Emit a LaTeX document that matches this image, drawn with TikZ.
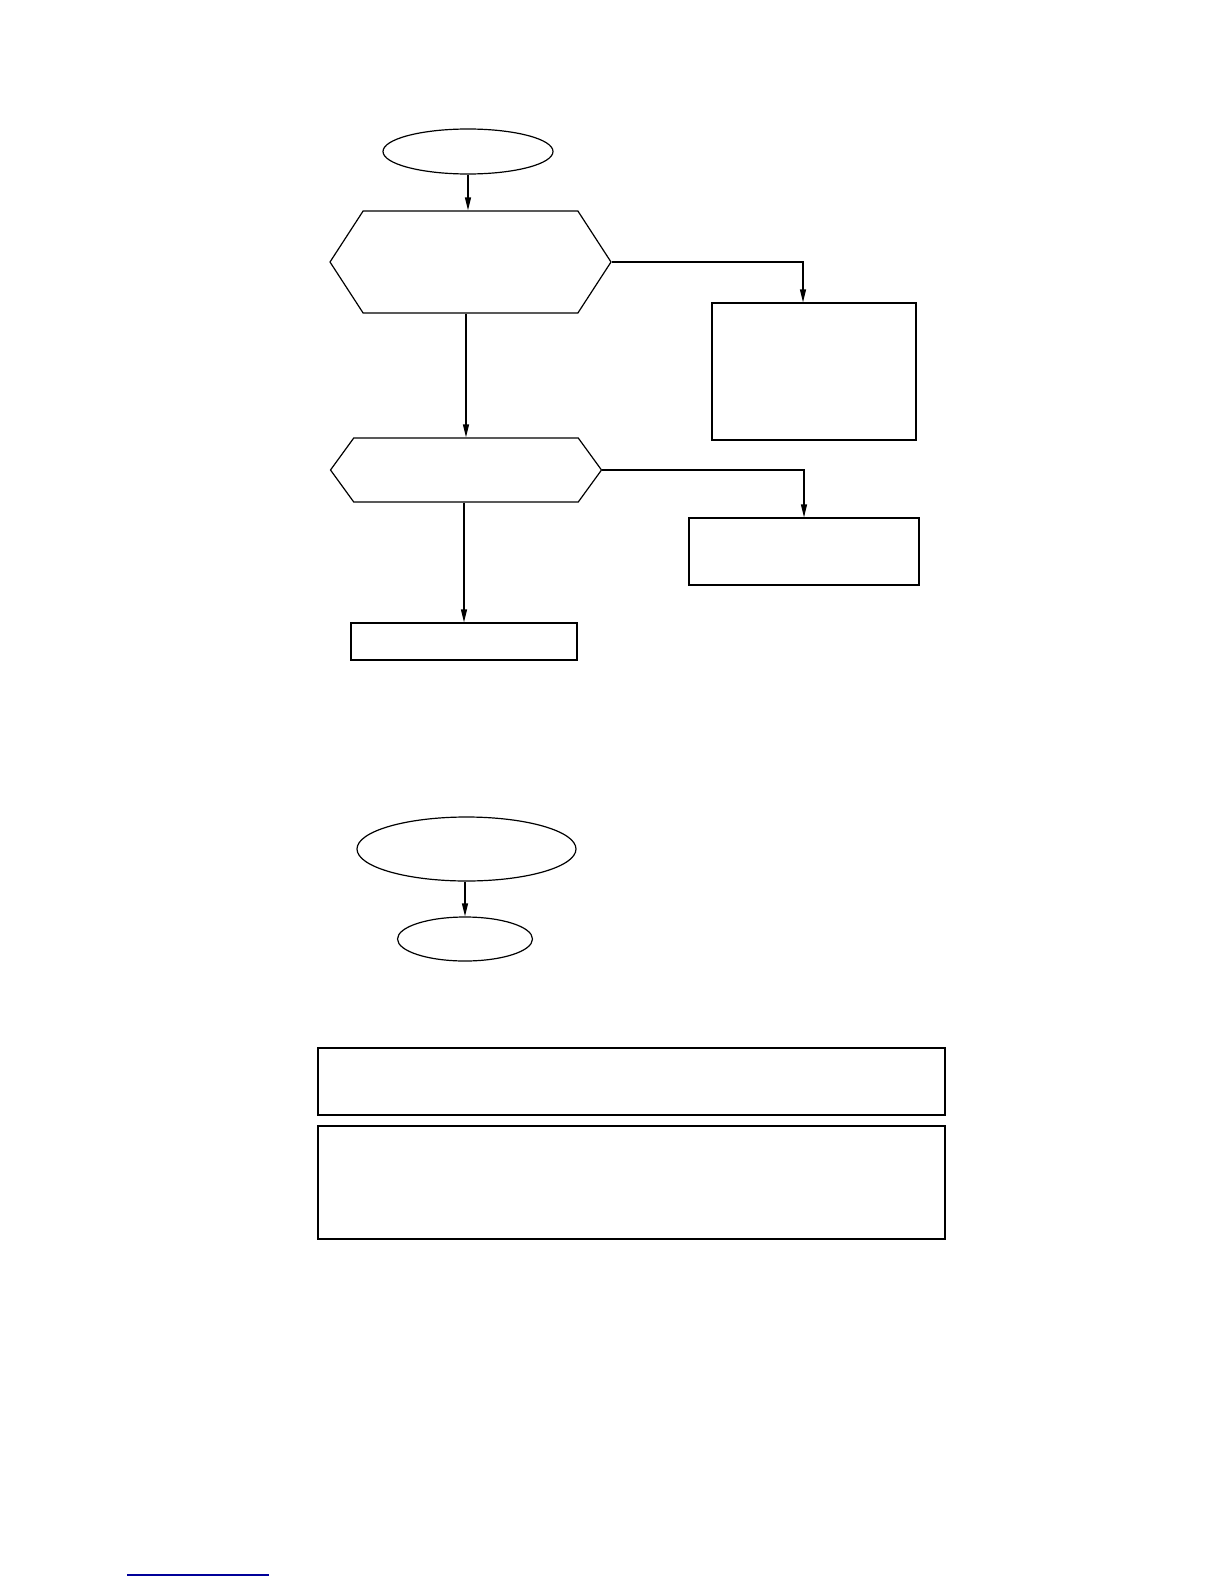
\documentclass[tikz,border=0pt]{standalone}
\usepackage{tikz}
\usetikzlibrary{arrows.meta, shapes.geometric, shapes.symbols}

\begin{document}
\begin{tikzpicture}[x=1pt, y=-1pt,
    oval/.style={draw, ellipse, line width=1.2pt, inner sep=0pt},
    hexa/.style={draw, signal, signal to=west and east, line width=1.2pt, inner sep=0pt},
    block/.style={draw, rectangle, line width=1.2pt, inner sep=0pt},
    panel/.style={draw, rectangle, line width=2.2pt, inner sep=0pt,
      minimum width=627pt},
    arr/.style={line width=1.2pt, -{Triangle[length=13pt, width=6pt]}}]
  \useasboundingbox (0, 0) rectangle (1224, 1584);

  % Upper chart
  \node[oval, minimum width=170pt, minimum height=45pt] (ovalTop) at (468, 151.5) {};
  \node[hexa, minimum width=281pt, minimum height=102pt, signal pointer angle=114]
    (hexTop) at (470.5, 262) {};
  \node[block, minimum width=204pt, minimum height=137pt] (boxRight) at (814, 371.5) {};
  \node[hexa, minimum width=271pt, minimum height=64pt, signal pointer angle=108]
    (hexMid) at (466, 470) {};
  \node[block, minimum width=230pt, minimum height=67pt] (boxMid) at (804, 551.5) {};
  \node[block, minimum width=226pt, minimum height=37pt] (boxLow) at (464, 641.5) {};

  \draw[arr] (ovalTop.south) -- (ovalTop.south |- hexTop.north);
  \draw[arr] (hexTop.south -| hexMid.north) -- (hexMid.north);
  \draw[arr] (hexTop.east) -| ([xshift=-11pt]boxRight.north);
  \draw[arr] (hexMid.east) -| (boxMid.north);
  \draw[arr] (hexMid.south -| boxLow.north) -- (boxLow.north);

  % Lower chart
  \node[oval, minimum width=219pt, minimum height=64pt] (ovalMid) at (466.5, 849) {};
  \node[oval, minimum width=135pt, minimum height=44pt] (ovalLow) at (465, 939) {};
  \draw[arr] (ovalMid.south -| ovalLow.north) -- (ovalLow.north);

  % Panels
  \node[panel, minimum height=67pt] (panelTop) at (631.5, 1081.5) {};
  \node[panel, minimum height=113pt] (panelLow) at (631.5, 1182.5) {};

  % Footer rule
  \draw[blue!60!black, line width=1.2pt] (127, 1575) -- (269, 1575);
\end{tikzpicture}
\end{document}
